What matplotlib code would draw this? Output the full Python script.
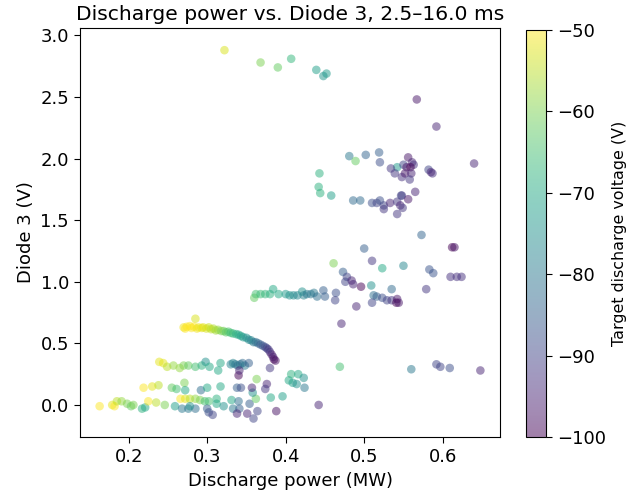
import matplotlib
matplotlib.use("Agg")
import matplotlib.pyplot as plt
import numpy as np

# Discharge power (MW), Diode 3 (V), Target discharge voltage (V)
band0_x = [.163,.179,.182,.185,.191,.198,.203,.206,.217,.221,.225,.235,.246,.259,.266,.272,.278,.285,.291,.297,.302,
           .268,.276,.285,.278,.300,.302,.307,.312,.312,.321,.331,.333,.340,.341,.338,.351,.354,.359,.364,.388,.362,.358,.381,.396,.442]
band0_y = [-.01,0,-.01,.03,.03,.01,-.01,0,-.03,-.02,.03,.02,0,-.01,.05,.05,.05,.05,.04,.03,.03,
           -.03,-.03,-.03,-.01,-.03,-.06,-.08,.05,.01,-.01,.04,-.03,.03,-.03,-.07,-.07,.01,-.11,-.05,-.05,.05,.10,.06,.07,0]
band0_v = [-50,-52,-50,-55,-58,-60,-62,-60,-68,-70,-50,-55,-60,-72,-50,-52,-55,-58,-60,-65,-65,
           -80,-80,-82,-75,-85,-88,-90,-68,-70,-75,-70,-80,-82,-85,-95,-95,-85,-90,-90,-98,-62,-75,-70,-72,-95]

band1_x = [.219,.230,.238,.255,.261,.271,.272,.292,.300,.317,.338,.343,.340,.357,.363,.376,.374,.404,.407,.416,.423,.409,.414,.424,.469,.560]
band1_y = [.14,.15,.16,.14,.13,.18,.12,.12,.14,.15,.14,.14,.24,.14,.21,.17,.13,.20,.25,.25,.22,.18,.17,.14,.31,.29]
band1_v = [-50,-52,-55,-62,-65,-60,-70,-82,-70,-70,-85,-88,-100,-95,-60,-95,-92,-70,-68,-70,-75,-72,-75,-80,-65,-80]

band2_x = [.239,.244,.249,.257,.265,.270,.276,.285,.293,.298,.303,.314,.317,.330,.333,.336,.339,.342,.345,.348,.353,.341,.380,.592,.597,.609,.648]
band2_y = [.35,.34,.31,.32,.30,.32,.32,.31,.32,.35,.31,.28,.34,.33,.34,.33,.32,.33,.34,.32,.34,.28,.30,.33,.31,.30,.28]
band2_v = [-52,-52,-55,-58,-58,-60,-62,-65,-68,-75,-70,-70,-70,-78,-78,-80,-82,-80,-83,-80,-85,-95,-92,-90,-90,-88,-95]

arc_x = [.270,.285,.274,.278,.283,.289,.295,.302,.308,.314,.321,.327,.333,.340,.346,.353,.359,.365,.371,.376,.380,.382,.385,
         .272,.280,.287,.293,.299,.305,.311,.318,.324,.330,.337,.343,.350,.356,.362,.368,.374,.378,.384,.387]
arc_y = [.63,.70,.635,.64,.635,.63,.63,.63,.62,.61,.60,.595,.58,.57,.55,.53,.51,.50,.48,.46,.43,.41,.37,
         .62,.625,.62,.625,.62,.615,.605,.60,.59,.585,.575,.56,.545,.525,.51,.49,.47,.45,.39,.36]
arc_v = [-51,-53,-50,-50,-50,-51,-52,-54,-56,-58,-61,-64,-67,-70,-73,-76,-80,-84,-87,-91,-94,-97,-100,
         -50,-50,-51,-52,-53,-55,-57,-60,-63,-66,-69,-72,-75,-78,-82,-86,-89,-92,-96,-98]

band9_x = [.360,.362,.368,.374,.380,.384,.391,.400,.405,.410,.415,.421,.423,.427,.432,.436,.440,.448,.450,.464,.463,.471]
band9_y = [.87,.90,.90,.90,.90,.94,.90,.90,.89,.89,.89,.92,.89,.90,.90,.91,.88,.93,.88,.91,.85,.66]
band9_v = [-62,-65,-66,-67,-68,-70,-70,-73,-75,-76,-77,-75,-78,-80,-80,-80,-82,-85,-85,-88,-90,-95]

mid_x = [.573,.612,.615,.500,.510,.461,.523,.550,.583,.588,.610,.618,.624,.473,.478,.476,.484,.486,.496,.509,.535,.579,
         .512,.516,.523,.529,.535,.542,.541,.544,.510,.490]
mid_y = [1.38,1.28,1.28,1.27,1.17,1.15,1.11,1.13,1.10,1.07,1.04,1.04,1.04,1.08,1.04,1.00,1.01,.98,.96,.97,.94,.94,
         .89,.88,.87,.85,.85,.86,.83,.83,.83,.80]
mid_v = [-84,-100,-98,-85,-92,-60,-70,-77,-87,-87,-93,-93,-93,-85,-90,-90,-95,-95,-100,-75,-83,-92,
         -82,-85,-88,-90,-92,-97,-100,-97,-90,-95]

up_x = [.481,.489,.502,.519,.520,.443,.442,.444,.458,.542,.534,.539,.548,.550,.556,.561,.563,.554,.559,.552,.560,.558,
        .582,.587,.585,.640,.565,.548,.556,.486,.495,.510,.516,.520,.525,.533,.542,.546,.525,.549,.542,.547]
up_y = [2.02,1.98,2.03,2.05,1.97,1.88,1.77,1.72,1.70,1.93,1.92,1.88,1.85,1.95,2.01,1.97,1.95,1.93,1.93,1.88,1.88,1.83,
        1.91,1.88,1.89,1.96,1.73,1.70,1.67,1.66,1.66,1.64,1.64,1.66,1.62,1.64,1.65,1.62,1.59,1.60,1.55,1.70]
up_v = [-80,-62,-84,-85,-88,-68,-68,-68,-72,-73,-92,-92,-93,-90,-97,-95,-93,-97,-100,-97,-95,-92,
        -90,-93,-95,-95,-95,-92,-97,-83,-83,-88,-90,-88,-90,-95,-92,-95,-92,-92,-92,-90]

top_x = [.322,.368,.390,.407,.439,.452,.448,.567,.592]
top_y = [2.88,2.78,2.74,2.81,2.72,2.69,2.67,2.48,2.26]
top_v = [-53,-60,-62,-67,-72,-73,-74,-97,-95]

x = np.array(band0_x + band1_x + band2_x + arc_x + band9_x + mid_x + up_x + top_x)
y = np.array(band0_y + band1_y + band2_y + arc_y + band9_y + mid_y + up_y + top_y)
v = np.array(band0_v + band1_v + band2_v + arc_v + band9_v + mid_v + up_v + top_v)

plt.rcParams['xtick.major.size'] = 4.5
plt.rcParams['ytick.major.size'] = 4.5

fig = plt.figure(figsize=(6.32, 4.95), dpi=100)
ax = fig.add_axes([80/632, 1-437/495, 420/632, 409/495])
cax = fig.add_axes([526/632, 1-437/495, 20/632, 407/495])

sc = ax.scatter(x, y, c=v, cmap="viridis", vmin=-100, vmax=-50, alpha=0.5, s=38, edgecolors="none")
ax.set_xlim(0.138, 0.673)
ax.set_ylim(-0.26, 3.06)
ax.set_xticks([0.2, 0.3, 0.4, 0.5, 0.6])
ax.set_yticks([0.0, 0.5, 1.0, 1.5, 2.0, 2.5, 3.0])
ax.set_xlabel("Discharge power (MW)", fontsize=13)
ax.set_ylabel("Diode 3 (V)", fontsize=13)
ax.set_title("Discharge power vs. Diode 3, 2.5\u201316.0 ms", fontsize=14.6)
ax.tick_params(labelsize=13)

cb = fig.colorbar(sc, cax=cax)
cb.set_label("Target discharge voltage (V)", fontsize=11.4)
cb.ax.tick_params(labelsize=13)

fig.savefig("out.png", dpi=100)
